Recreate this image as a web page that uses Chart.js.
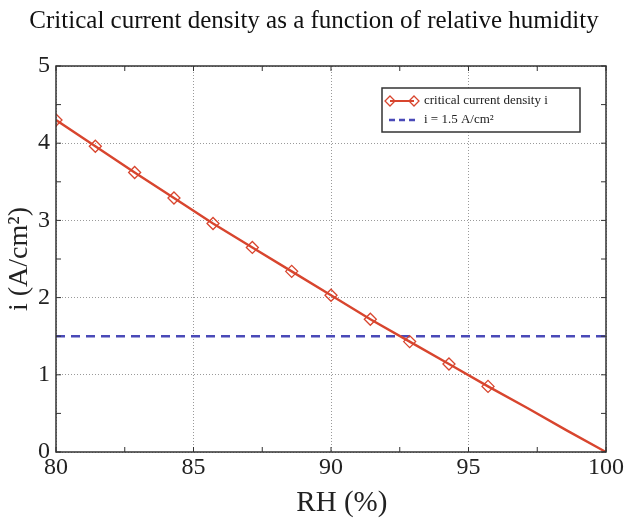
<!DOCTYPE html>
<html>
<head>
<meta charset="utf-8">
<script src="https://cdn.jsdelivr.net/npm/chart.js@4/dist/chart.umd.min.js"></script>
<style>
  html, body { margin: 0; padding: 0; background: #fff; }
  #wrap { width: 628px; height: 521px; }
</style>
</head>
<body>
<div id="wrap"><canvas id="chart" width="628" height="521"></canvas></div>
<script>
// relative humidity (%) and critical current density (A/cm2)
const rh = [80, 81.43, 82.86, 84.29, 85.71, 87.14, 88.57, 90, 91.43, 92.86, 94.29, 95.71, 97.14, 98.57, 100];
const current = [4.30, 3.96, 3.62, 3.29, 2.96, 2.65, 2.34, 2.03, 1.72, 1.43, 1.14, 0.85, 0.57, 0.28, 0];
const markerCount = 12; // markers only on the first points

const thresholdRh = [80, 100];
const thresholdI = [1.5, 1.5];

const xTicks = [80, 85, 90, 95, 100];
const yTicks = [0, 1, 2, 3, 4, 5];

const RED = "#d8452e";
const BLUE = "#4a4ab8";
const SERIF = "'Liberation Serif', 'Times New Roman', serif";

Chart.defaults.font.family = SERIF;
Chart.defaults.color = "#222";

// matlab style frame + inner minor ticks
const framePlugin = {
  id: "frame",
  afterDraw(chart) {
    const { ctx, chartArea: a, scales } = chart;
    ctx.save();
    ctx.strokeStyle = "#333";
    ctx.lineWidth = 1;
    for (let v = 80; v <= 100; v += 2.5) {
      const x = scales.x.getPixelForValue(v);
      ctx.beginPath();
      ctx.moveTo(x, a.bottom); ctx.lineTo(x, a.bottom - 5);
      ctx.moveTo(x, a.top); ctx.lineTo(x, a.top + 5);
      ctx.stroke();
    }
    for (let v = 0; v <= 5; v += 0.5) {
      const y = scales.y.getPixelForValue(v);
      ctx.beginPath();
      ctx.moveTo(a.left, y); ctx.lineTo(a.left + 5, y);
      ctx.moveTo(a.right, y); ctx.lineTo(a.right - 5, y);
      ctx.stroke();
    }
    ctx.lineWidth = 1.5;
    ctx.strokeRect(a.left, a.top, a.right - a.left, a.bottom - a.top);
    ctx.restore();
  }
};

function diamond(ctx, x, y, r) {
  ctx.beginPath();
  ctx.moveTo(x, y - r); ctx.lineTo(x + r, y); ctx.lineTo(x, y + r); ctx.lineTo(x - r, y);
  ctx.closePath();
  ctx.stroke();
}

// legend box like the original
const legendPlugin = {
  id: "boxLegend",
  afterDraw(chart) {
    const { ctx } = chart;
    const bx = 382, by = 88, bw = 198, bh = 44;
    ctx.save();
    ctx.fillStyle = "#fff";
    ctx.fillRect(bx, by, bw, bh);
    ctx.strokeStyle = "#333";
    ctx.lineWidth = 1.5;
    ctx.strokeRect(bx, by, bw, bh);

    ctx.strokeStyle = RED;
    ctx.lineWidth = 2;
    ctx.beginPath(); ctx.moveTo(390, 101); ctx.lineTo(414, 101); ctx.stroke();
    ctx.lineWidth = 1.3;
    diamond(ctx, 390, 101, 5);
    diamond(ctx, 414, 101, 5);

    ctx.strokeStyle = BLUE;
    ctx.lineWidth = 2.5;
    ctx.setLineDash([6, 4]);
    ctx.beginPath(); ctx.moveTo(389, 120); ctx.lineTo(415, 120); ctx.stroke();
    ctx.setLineDash([]);

    ctx.fillStyle = "#222";
    ctx.font = "13px " + SERIF;
    ctx.textBaseline = "middle";
    ctx.fillText("critical current density i", 424, 101);
    ctx.fillText("i = 1.5 A/cm\u00B2", 424, 120);
    ctx.restore();
  }
};

new Chart(document.getElementById("chart"), {
  type: "line",
  data: {
    datasets: [
      {
        label: "critical current density i",
        data: rh.map((x, k) => ({ x, y: current[k] })),
        borderColor: RED,
        borderWidth: 2.4,
        pointStyle: "rectRot",
        pointRadius: rh.map((x, k) => (k < markerCount ? 6 : 0)),
        pointBorderColor: RED,
        pointBorderWidth: 1.3,
        pointBackgroundColor: "rgba(0,0,0,0)",
        tension: 0
      },
      {
        label: "i = 1.5 A/cm\u00B2",
        data: thresholdRh.map((x, k) => ({ x, y: thresholdI[k] })),
        borderColor: BLUE,
        borderWidth: 2.5,
        borderDash: [9, 6],
        pointRadius: 0
      }
    ]
  },
  options: {
    responsive: false,
    animation: false,
    layout: { padding: 0 },
    plugins: {
      legend: { display: false },
      tooltip: { enabled: false },
      title: {
        display: true,
        text: "Critical current density as a function of relative humidity",
        font: { size: 25, weight: "normal", family: SERIF },
        color: "#111",
        padding: { top: 6, bottom: 30 }
      }
    },
    scales: {
      x: {
        type: "linear",
        min: 80,
        max: 100,
        afterBuildTicks: (s) => { s.ticks = xTicks.map((v) => ({ value: v })); },
        afterFit: (s) => { s.height = 69; s.paddingLeft = 0; s.paddingRight = 22; },
        ticks: { font: { size: 24 }, color: "#222", padding: 1, maxRotation: 0 },
        grid: { color: "#9a9a9a", lineWidth: 1, drawTicks: false },
        border: { display: false, dash: [1, 2] },
        title: {
          display: true,
          text: "   RH (%)",
          font: { size: 29, family: SERIF },
          color: "#222",
          padding: { top: 0, bottom: 0 }
        }
      },
      y: {
        min: 0,
        max: 5,
        afterBuildTicks: (s) => { s.ticks = yTicks.map((v) => ({ value: v })); },
        afterFit: (s) => { s.width = 56; s.paddingTop = 0; s.paddingBottom = 0; },
        ticks: { font: { size: 24 }, color: "#222", padding: 6 },
        grid: { color: "#9a9a9a", lineWidth: 1, drawTicks: false },
        border: { display: false, dash: [1, 2] },
        title: {
          display: true,
          text: "i (A/cm\u00B2)",
          font: { size: 28, family: SERIF },
          color: "#222",
          padding: { top: 3, bottom: 0 }
        }
      }
    }
  },
  plugins: [framePlugin, legendPlugin]
});
</script>
</body>
</html>
